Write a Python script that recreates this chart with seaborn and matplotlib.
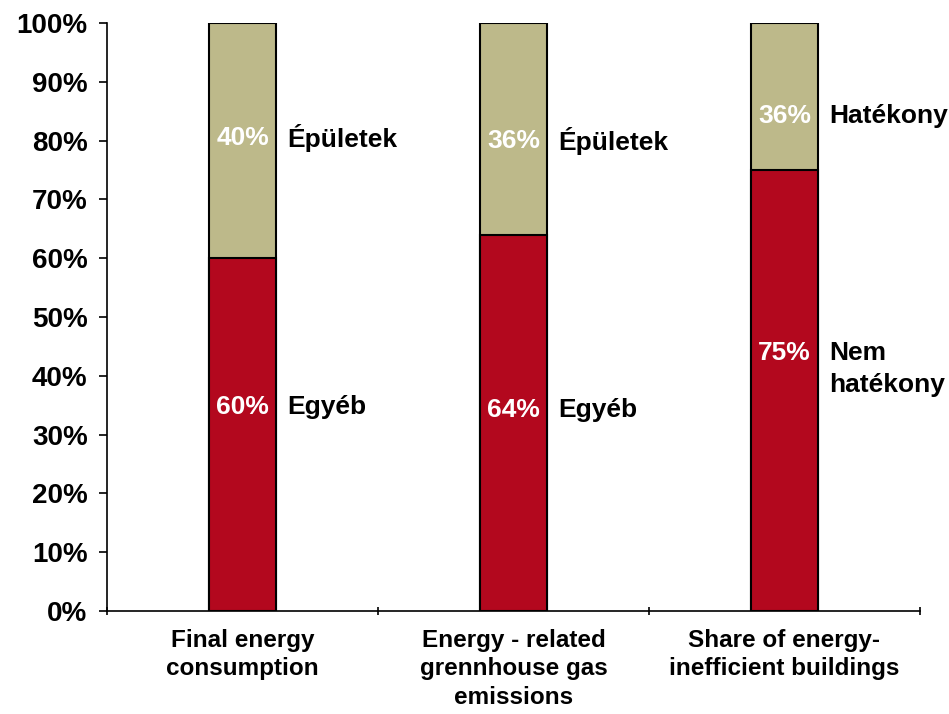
import pandas as pd
import matplotlib.pyplot as plt
import seaborn as sns

# données
categories = ["Final energy\nconsumption",
              "Energy - related\ngrennhouse gas\nemissions",
              "Share of energy-\ninefficient buildings"]
bas = [60, 64, 75]
haut = [40, 36, 25]
txt_bas = ["60%", "64%", "75%"]
txt_haut = ["40%", "36%", "36%"]
nom_bas = ["Egyéb", "Egyéb", "Nem\nhatékony"]
nom_haut = ["Épületek", "Épületek", "Hatékony"]

# hauteur des étiquettes
y_bas = [34.7, 34.2, 43.9]
y_nom_bas = [34.7, 34.2, 41.2]
y_haut = [80.4, 80.0, 84.2]

ROUGE = "#B3081E"
KAKI = "#BDB98A"

sns.set_theme(style="ticks")
plt.rcParams["font.family"] = ["Liberation Sans", "DejaVu Sans"]
plt.rcParams["font.weight"] = "bold"
plt.rcParams["text.color"] = "black"
plt.rcParams["xtick.color"] = "black"
plt.rcParams["ytick.color"] = "black"

df = pd.DataFrame({"cat": categories, "bas": bas,
                   "total": [b + h for b, h in zip(bas, haut)]})

fig = plt.figure(figsize=(9.49, 7.14), dpi=100)
ax = fig.add_axes([0.1128, 0.1443, 0.8566, 0.8235])

sns.barplot(data=df, x="cat", y="total", color=KAKI, saturation=1,
            width=0.25, edgecolor="black", linewidth=1.5, ax=ax)
sns.barplot(data=df, x="cat", y="bas", color=ROUGE, saturation=1,
            width=0.25, edgecolor="black", linewidth=1.5, ax=ax)

for i in range(len(categories)):
    ax.text(i, y_haut[i], txt_haut[i], color="white", fontsize=19,
            fontweight="bold", ha="center", va="center")
    ax.text(i, y_bas[i], txt_bas[i], color="white", fontsize=19,
            fontweight="bold", ha="center", va="center")
    ax.text(i + 0.165, y_haut[i], nom_haut[i], color="black", fontsize=19,
            fontweight="bold", ha="left", va="center")
    ax.text(i + 0.165, y_nom_bas[i], nom_bas[i], color="black", fontsize=19,
            fontweight="bold", ha="left", va="center", linespacing=1.4)

ax.set_xlim(-0.5, 2.5)
ax.set_ylim(0, 100)
ax.set_yticks(range(0, 101, 10))
ax.set_yticklabels([f"{v}%" for v in range(0, 101, 10)], fontsize=20,
                   fontweight="bold", color="black")
ax.set_xticks([-0.5, 0.5, 1.5, 2.5])
ax.set_xticklabels([])
ax.set_xticks([0, 1, 2], minor=True)
ax.set_xticklabels(categories, minor=True, fontsize=17.5, fontweight="bold",
                   linespacing=1.3, va="top", color="black")
ax.tick_params(axis="x", which="minor", length=0, pad=13)
ax.tick_params(axis="x", which="major", length=6, width=1.2, direction="inout",
               color="black")
ax.tick_params(axis="y", length=6, width=1.2, direction="out", pad=8,
               color="black")
ax.set_xlabel("")
ax.set_ylabel("")
for s in ["top", "right"]:
    ax.spines[s].set_visible(False)
for s in ["left", "bottom"]:
    ax.spines[s].set_linewidth(1.2)
    ax.spines[s].set_color("black")

fig.savefig("out.png", dpi=100)
plt.close(fig)
